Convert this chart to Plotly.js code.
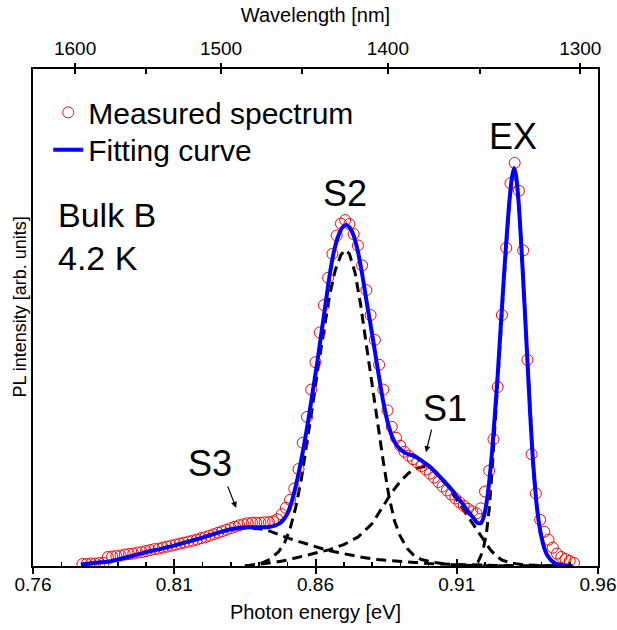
<!DOCTYPE html>
<html>
<head>
<meta charset="utf-8">
<script src="https://cdn.plot.ly/plotly-3.0.1.min.js"></script>
<style>html,body{margin:0;padding:0;background:#fff;}#chart{width:617px;height:630px;}</style>
</head>
<body>
<div id="chart"></div>
<script>
// Measured PL spectrum (photon energy in eV, intensity in arb. units)
const measEnergy = [
0.7775,0.7790,0.7805,0.7820,0.7835,0.7850,0.7865,0.7880,0.7895,0.7910,
0.7925,0.7940,0.7955,0.7970,0.7985,0.8000,0.8015,0.8030,0.8045,0.8060,
0.8075,0.8090,0.8105,0.8120,0.8135,0.8150,0.8165,0.8180,0.8195,0.8210,
0.8225,0.8240,0.8255,0.8270,0.8285,0.8300,0.8315,0.8330,0.8345,0.8360,
0.8375,0.8390,0.8405,0.8420,0.8435,0.8450,0.8465,0.8480,0.8495,0.8510,
0.8525,0.8540,0.8555,0.8570,0.8585,0.8600,0.8615,0.8630,0.8645,0.8660,
0.8675,0.8690,0.8705,0.8720,0.8735,0.8750,0.8765,0.8780,0.8795,0.8810,
0.8825,0.8840,0.8855,0.8870,0.8885,0.8900,0.8915,0.8930,0.8945,0.8960,
0.8975,0.8990,0.9005,0.9020,0.9035,0.9050,0.9065,0.9080,0.9095,0.9110,
0.9125,0.9140,0.9155,0.9170,0.9185,0.9200,0.9215,0.9230,0.9245,0.9260,
0.9275,0.9290,0.9305,0.9320,0.9335,0.9350,0.9365,0.9380,0.9395,0.9410,
0.9425,0.9440,0.9455,0.9470,0.9485,0.9500,0.9515];
const measIntensity = [
0.4,0.4,0.5,0.5,0.6,0.6,1.8,1.9,2.0,2.1,
2.3,2.4,2.5,2.7,2.8,3.0,3.2,3.4,3.5,3.7,
3.9,4.1,4.3,4.5,4.7,4.9,5.1,5.3,5.6,5.8,
6.1,6.4,6.7,7.0,7.3,7.6,7.9,8.2,8.4,8.6,
8.7,8.7,8.7,8.8,8.8,9.0,9.4,10.4,11.7,13.3,
15.6,19.5,24.8,30.0,35.5,41.0,47.0,52.5,58.0,62.8,
66.5,68.9,69.6,68.8,66.8,64.5,60.5,55.5,50.5,45.5,
40.5,35.5,31.3,28.0,25.8,24.2,23.0,22.2,21.5,20.8,
20.1,19.4,18.6,17.8,16.9,16.0,15.2,14.4,13.6,12.8,
12.1,11.5,11.0,10.6,11.6,15.0,19.2,25.5,36.0,50.5,
64.0,77.0,81.1,75.5,63.5,41.5,22.5,14.6,9.3,6.9,
5.3,3.7,2.5,1.8,1.4,1.0,0.6];

// Fitting curve
const fitEnergy = [0.7770,0.7800,0.7830,0.7870,0.7900,0.7950,0.8000,0.8050,0.8100,0.8150,
0.8200,0.8250,0.8300,0.8350,0.8400,0.8430,0.8460,0.8480,0.8500,0.8515,
0.8530,0.8545,0.8560,0.8575,0.8590,0.8605,0.8620,0.8635,0.8650,0.8665,
0.8680,0.8695,0.8708,0.8720,0.8735,0.8750,0.8765,0.8780,0.8795,0.8810,
0.8825,0.8840,0.8855,0.8870,0.8885,0.8900,0.8920,0.8940,0.8960,0.8980,
0.9000,0.9020,0.9040,0.9060,0.9080,0.9100,0.9120,0.9140,0.9160,0.9172,
0.9185,0.9195,0.9205,0.9215,0.9225,0.9235,0.9245,0.9255,0.9265,0.9275,
0.9285,0.9295,0.9303,0.9310,0.9320,0.9330,0.9340,0.9350,0.9360,0.9370,
0.9380,0.9390,0.9400,0.9410,0.9420,0.9435,0.9450,0.9470,0.9510];
const fitIntensity = [0.3,0.5,0.7,0.9,1.3,2.0,2.8,3.4,4.1,4.9,
5.7,6.6,7.4,7.8,7.8,7.8,8.2,8.9,10.5,12.8,
16.0,20.0,24.5,29.5,35.0,40.5,46.5,52.5,58.5,63.2,
66.3,68.1,68.6,68.2,66.5,63.3,58.8,53.5,48.5,43.3,
38.0,33.0,29.0,26.2,24.5,23.5,22.7,22.3,21.8,21.0,
20.2,19.2,18.0,16.8,15.5,14.0,12.6,11.0,9.6,8.7,
8.6,9.8,12.5,17.0,23.0,30.5,38.5,47.5,56.5,65.0,
72.5,78.0,80.1,78.5,72.5,63.0,52.5,41.5,30.5,21.0,
14.0,9.0,5.8,3.6,2.2,1.1,0.5,0.2,0.0];

// Fitted components
const s3Energy = [0.7770,0.7800,0.7830,0.7870,0.7900,0.7950,0.8000,0.8050,0.8100,0.8150,
0.8200,0.8250,0.8300,0.8350,0.8400,0.8430,0.8460,0.8490,0.8520,0.8560,
0.8600,0.8640,0.8680,0.8720,0.8770,0.8820,0.8870,0.8910,0.9000,0.9100,0.9250,0.9500];
const s3Intensity = [0.3,0.5,0.7,0.9,1.3,2.0,2.8,3.4,4.1,4.9,
5.7,6.6,7.4,7.7,7.5,7.2,6.5,5.9,5.3,4.6,
3.9,3.2,2.7,2.2,1.7,1.3,1.1,0.9,0.5,0.3,0.1,0.0];

const s2Energy = [0.8350,0.8380,0.8410,0.8440,0.8470,0.8490,0.8510,0.8530,0.8550,0.8570,
0.8590,0.8610,0.8630,0.8650,0.8670,0.8690,0.8706,0.8720,0.8740,0.8760,
0.8780,0.8800,0.8820,0.8840,0.8860,0.8880,0.8900,0.8925,0.8950,0.8975,
0.9020,0.9080,0.9150,0.9300];
const s2Intensity = [0.0,0.2,0.6,1.4,2.9,4.6,7.5,11.8,17.5,24.5,
32.3,40.3,47.5,54.5,59.5,62.6,63.6,62.8,59.0,52.5,
44.5,36.5,29.0,21.0,14.0,9.0,6.0,3.5,2.0,1.3,
0.7,0.3,0.1,0.0];

const s1Energy = [0.8350,0.8400,0.8450,0.8500,0.8550,0.8600,0.8650,0.8700,0.8750,0.8800,
0.8840,0.8870,0.8900,0.8930,0.8960,0.8985,0.9010,0.9040,0.9070,0.9100,
0.9130,0.9160,0.9180,0.9200,0.9220,0.9240,0.9260,0.9290,0.9330,0.9400,0.9500];
const s1Intensity = [0.0,0.3,0.7,1.2,1.9,2.6,3.3,4.3,5.8,8.5,
12.0,14.8,17.0,18.7,19.7,20.0,19.6,17.9,16.0,13.3,
10.8,8.3,6.8,5.0,3.2,2.0,1.2,0.6,0.3,0.1,0.0];

const exEnergy = [0.9120,0.9140,0.9160,0.9175,0.9185,0.9195,0.9205,0.9215,0.9225,0.9235,
0.9245,0.9255,0.9265,0.9275,0.9285,0.9295,0.9303,0.9310,0.9320,0.9330,
0.9340,0.9350,0.9360,0.9370,0.9380,0.9390,0.9400,0.9410,0.9420,0.9435,
0.9450,0.9470,0.9510];
const exIntensity = [0.0,0.0,0.2,0.8,2.0,3.8,6.5,11.5,19.0,27.5,
36.5,46.0,55.5,64.3,72.0,77.7,79.9,78.4,72.4,63.0,
52.5,41.4,30.4,20.9,13.9,9.0,5.8,3.6,2.2,1.1,
0.5,0.2,0.0];

// Top-axis wavelength ticks (nm)
const wlMajor = [1600, 1500, 1400, 1300];
const wlMinor = [1550, 1450, 1350];
const hc = 1239.84; // eV*nm

const font = 'Arial, "Liberation Sans", sans-serif';
const dashStyle = {color: 'black', width: 3, dash: '10px,6px'};

const traces = [
  {x: s3Energy, y: s3Intensity, mode: 'lines', line: dashStyle, showlegend: false, hoverinfo: 'skip'},
  {x: s2Energy, y: s2Intensity, mode: 'lines', line: dashStyle, showlegend: false, hoverinfo: 'skip'},
  {x: s1Energy, y: s1Intensity, mode: 'lines', line: dashStyle, showlegend: false, hoverinfo: 'skip'},
  {x: exEnergy, y: exIntensity, mode: 'lines', line: dashStyle, showlegend: false, hoverinfo: 'skip'},
  {x: measEnergy, y: measIntensity, mode: 'markers', name: 'Measured spectrum', legend: 'legend',
   marker: {symbol: 'circle-open', size: 11, color: '#ff0000', line: {width: 1, color: '#ff0000'}}},
  {x: fitEnergy, y: fitIntensity, mode: 'lines', name: 'Fitting curve', legend: 'legend2',
   line: {color: '#0000ff', width: 4, shape: 'spline', smoothing: 0.6}},
  {x: [0.76, 0.96], y: [null, null], xaxis: 'x2', showlegend: false, hoverinfo: 'skip'},
  {x: [0.76, 0.96], y: [null, null], xaxis: 'x3', showlegend: false, hoverinfo: 'skip'},
  {x: [0.76, 0.96], y: [null, null], xaxis: 'x4', showlegend: false, hoverinfo: 'skip'}
];

const xr = [0.76, 0.96];
const legendBase = {xanchor: 'left', yanchor: 'top', font: {size: 30, family: font},
                    bgcolor: 'rgba(0,0,0,0)', itemwidth: 30};
const layout = {
  width: 617, height: 630,
  margin: {l: 33, r: 19, t: 69, b: 64},
  paper_bgcolor: '#fff', plot_bgcolor: '#fff',
  font: {family: font, color: '#000', size: 19},
  showlegend: true,
  legend: Object.assign({x: 0.027, y: 0.965}, legendBase),
  legend2: Object.assign({x: 0.027, y: 0.890}, legendBase),
  xaxis: {range: xr, tickmode: 'linear', tick0: 0.76, dtick: 0.05, tickformat: '.2f',
          ticks: 'inside', ticklen: 7, tickwidth: 2, tickcolor: '#000',
          showline: true, linewidth: 2, linecolor: '#000', showgrid: false, zeroline: false,
          tickfont: {size: 19}, automargin: false,
          minor: {tick0: 0.76, dtick: 0.01, ticks: 'inside', ticklen: 4, tickwidth: 1.5, tickcolor: '#000', showgrid: false},
          title: {text: 'Photon energy [eV]', font: {size: 20}, standoff: 11}},
  xaxis3: {range: xr, overlaying: 'x', side: 'bottom', anchor: 'y', tickmode: 'linear', tick0: 0.76, dtick: 0.05,
           ticks: 'outside', ticklen: 7, tickwidth: 2, tickcolor: '#000', showticklabels: false,
           showline: false, showgrid: false, zeroline: false, automargin: false},
  xaxis2: {range: xr, overlaying: 'x', side: 'top', anchor: 'y', tickmode: 'array',
           tickvals: wlMajor.map(w => hc / w), ticktext: wlMajor.map(String),
           ticks: 'outside', ticklen: 4, tickwidth: 2, tickcolor: '#000',
           showline: true, linewidth: 2, linecolor: '#000', showgrid: false, zeroline: false,
           tickfont: {size: 19}, automargin: false,
           title: {text: 'Wavelength [nm]', font: {size: 20}, standoff: 10}},
  xaxis4: {range: xr, overlaying: 'x', side: 'top', anchor: 'y', tickmode: 'array',
           tickvals: wlMajor.concat(wlMinor).map(w => hc / w),
           ticks: 'inside', ticklen: 5, tickwidth: 2, tickcolor: '#000', showticklabels: false,
           showline: false, showgrid: false, zeroline: false, automargin: false},
  yaxis: {range: [0, 100], showticklabels: false, ticks: '', showline: true, linewidth: 2,
          linecolor: '#000', mirror: true, showgrid: false, zeroline: false, automargin: false},
  annotations: [
    {xref: 'paper', yref: 'paper', x: -0.023, y: 0.52, xanchor: 'center', yanchor: 'middle', textangle: -90,
     text: 'PL intensity [arb. units]', showarrow: false, font: {size: 18}},
    {xref: 'paper', yref: 'paper', x: 0.040, y: 0.706, xanchor: 'left', yanchor: 'middle',
     text: 'Bulk B', showarrow: false, font: {size: 34}},
    {xref: 'paper', yref: 'paper', x: 0.040, y: 0.620, xanchor: 'left', yanchor: 'middle',
     text: '4.2 K', showarrow: false, font: {size: 34}},
    {x: 0.8704, y: 75.0, text: 'S2', showarrow: false, font: {size: 36}},
    {x: 0.9299, y: 86.5, text: 'EX', showarrow: false, font: {size: 36}},
    {x: 0.8227, y: 20.7, text: 'S3', showarrow: false, font: {size: 36}},
    {x: 0.9058, y: 31.6, text: 'S1', showarrow: false, font: {size: 36}},
    {x: 0.8319, y: 11.7, ax: -9, ay: -23, text: '', showarrow: true, arrowhead: 2, arrowsize: 1, arrowwidth: 1.2, arrowcolor: '#000'},
    {x: 0.8991, y: 22.9, ax: 6, ay: -24, text: '', showarrow: true, arrowhead: 2, arrowsize: 1, arrowwidth: 1.2, arrowcolor: '#000'}
  ]
};

Plotly.newPlot('chart', traces, layout, {staticPlot: true, displayModeBar: false});
</script>
</body>
</html>
